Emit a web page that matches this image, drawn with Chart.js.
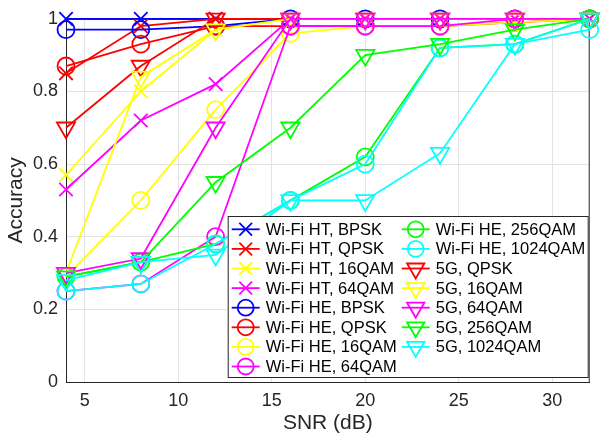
<!DOCTYPE html>
<html>
<head>
<meta charset="utf-8">
<script src="https://cdn.jsdelivr.net/npm/chart.js@4"></script>
<style>
  html, body { margin: 0; padding: 0; background: #fff; }
</style>
</head>
<body>
<canvas id="accChart" width="602" height="440"></canvas>
<script>
// SNR points (dB)
const snr = [4, 8, 12, 16, 20, 24, 28, 32];
const xTicks = [5, 10, 15, 20, 25, 30];
const yTicks = [0, 0.2, 0.4, 0.6, 0.8, 1];
const yTickLabels = ['0', '0.2', '0.4', '0.6', '0.8', '1'];

const seriesLabels = [
  'Wi-Fi HT, BPSK', 'Wi-Fi HT, QPSK', 'Wi-Fi HT, 16QAM', 'Wi-Fi HT, 64QAM',
  'Wi-Fi HE, BPSK', 'Wi-Fi HE, QPSK', 'Wi-Fi HE, 16QAM', 'Wi-Fi HE, 64QAM',
  'Wi-Fi HE, 256QAM', 'Wi-Fi HE, 1024QAM',
  '5G, QPSK', '5G, 16QAM', '5G, 64QAM', '5G, 256QAM', '5G, 1024QAM'
];

// accuracy per series
const htBpsk   = [1.00, 1.00, 1.00, 1.00, 1.00, 1.00, 1.00, 1.00];
const htQpsk   = [0.85, 0.98, 1.00, 1.00, 1.00, 1.00, 1.00, 1.00];
const ht16     = [0.57, 0.80, 0.97, 1.00, 1.00, 1.00, 1.00, 1.00];
const ht64     = [0.53, 0.72, 0.82, 1.00, 1.00, 1.00, 1.00, 1.00];
const heBpsk   = [0.97, 0.97, 0.98, 1.00, 1.00, 1.00, 1.00, 1.00];
const heQpsk   = [0.87, 0.93, 0.98, 0.98, 0.98, 0.98, 0.99, 1.00];
const he16     = [0.29, 0.50, 0.75, 0.96, 0.98, 0.98, 0.99, 1.00];
const he64     = [0.25, 0.27, 0.40, 0.98, 0.98, 0.98, 1.00, 1.00];
const he256    = [0.29, 0.33, 0.38, 0.50, 0.62, 0.92, 0.93, 1.00];
const he1024   = [0.25, 0.27, 0.38, 0.50, 0.60, 0.92, 0.93, 0.97];
const g5Qpsk   = [0.70, 0.87, 1.00, 1.00, 1.00, 1.00, 1.00, 1.00];
const g5_16    = [0.30, 0.84, 0.97, 1.00, 1.00, 1.00, 1.00, 1.00];
const g5_64    = [0.30, 0.34, 0.70, 1.00, 1.00, 1.00, 1.00, 1.00];
const g5_256   = [0.29, 0.33, 0.55, 0.70, 0.90, 0.93, 0.97, 1.00];
const g5_1024  = [0.28, 0.33, 0.35, 0.50, 0.50, 0.63, 0.93, 1.00];

const seriesValues = [htBpsk, htQpsk, ht16, ht64, heBpsk, heQpsk, he16, he64,
  he256, he1024, g5Qpsk, g5_16, g5_64, g5_256, g5_1024];

// styles
const BLUE = '#0000ff', RED = '#ff0000', YELLOW = '#ffff00',
      MAGENTA = '#ff00ff', GREEN = '#00ff00', CYAN = '#00ffff';
const seriesColors = [BLUE, RED, YELLOW, MAGENTA, BLUE, RED, YELLOW, MAGENTA,
  GREEN, CYAN, RED, YELLOW, MAGENTA, GREEN, CYAN];
const seriesMarkers = ['x', 'x', 'x', 'x', 'o', 'o', 'o', 'o', 'o', 'o', 'v', 'v', 'v', 'v', 'v'];

const markerStyle = {
  x: { pointStyle: 'crossRot', radius: 9.5, rotation: 0 },
  o: { pointStyle: 'circle', radius: 8.5, rotation: 0 },
  v: { pointStyle: 'triangle', radius: 10.5, rotation: 180 }
};

const FONT = "'Liberation Sans', Arial, Helvetica, sans-serif";
const AXIS_COLOR = '#262626';
const LW = 1.8;

const datasets = seriesLabels.map(function (label, i) {
  const m = markerStyle[seriesMarkers[i]];
  return {
    label: label,
    data: snr.map(function (x, k) { return { x: x, y: seriesValues[i][k] }; }),
    borderColor: seriesColors[i],
    backgroundColor: 'transparent',
    borderWidth: LW,
    pointStyle: m.pointStyle,
    pointRadius: m.radius,
    pointRotation: m.rotation,
    pointBorderWidth: LW,
    pointBorderColor: seriesColors[i],
    pointBackgroundColor: 'transparent',
    tension: 0,
    clip: false,
    // later series on top, like MATLAB
    order: seriesLabels.length - 1 - i
  };
});

// box around the axes
const axesBox = {
  id: 'axesBox',
  beforeDatasetsDraw(chart) {
    const a = chart.chartArea, ctx = chart.ctx;
    ctx.save();
    ctx.strokeStyle = AXIS_COLOR;
    ctx.lineWidth = 1;
    ctx.strokeRect(a.left + 0.5, a.top + 0.5, a.right - a.left - 1, a.bottom - a.top);
    ctx.restore();
  }
};

// two-column legend inside the axes (bottom right)
const boxLegend = {
  id: 'boxLegend',
  afterDraw(chart) {
    const a = chart.chartArea, ctx = chart.ctx;
    const right = a.right - 1, bottom = a.bottom - 4;
    const left = right - 361, top = bottom - 162;
    const rowH = 19.6;
    const perCol = 8;
    ctx.save();
    ctx.fillStyle = '#ffffff';
    ctx.fillRect(left, top, right - left, bottom - top);
    ctx.strokeStyle = AXIS_COLOR;
    ctx.lineWidth = 1;
    ctx.strokeRect(left + 0.5, top + 0.5, right - left - 1, bottom - top - 1);
    ctx.font = '16.5px ' + FONT;
    ctx.textBaseline = 'middle';
    ctx.textAlign = 'left';
    seriesLabels.forEach(function (label, i) {
      const col = Math.floor(i / perCol), row = i % perCol;
      const mx = left + 18 + col * 170;
      const my = top + 13.3 + row * rowH;
      const m = markerStyle[seriesMarkers[i]];
      ctx.strokeStyle = seriesColors[i];
      ctx.fillStyle = 'transparent';
      ctx.lineWidth = LW;
      ctx.beginPath();
      ctx.moveTo(mx - 14, my);
      ctx.lineTo(mx + 14, my);
      ctx.stroke();
      Chart.helpers.drawPoint(ctx, {
        pointStyle: m.pointStyle, radius: m.radius - 0.5, rotation: m.rotation, borderWidth: LW
      }, mx, my);
      ctx.fillStyle = '#000000';
      ctx.fillText(label, mx + 20, my + 1);
    });
    ctx.restore();
  }
};

const ctx = document.getElementById('accChart').getContext('2d');
new Chart(ctx, {
  type: 'line',
  data: { datasets: datasets },
  plugins: [axesBox, boxLegend],
  options: {
    responsive: false,
    animation: false,
    events: [],
    layout: { padding: { top: 16, right: 9, left: 0, bottom: 0 } },
    plugins: {
      legend: { display: false },
      tooltip: { enabled: false }
    },
    scales: {
      x: {
        type: 'linear',
        min: 4,
        max: 32,
        afterBuildTicks: function (s) { s.ticks = xTicks.map(function (v) { return { value: v }; }); },
        afterFit: function (s) { s.height = 58; },
        grid: { color: '#e3e3e3', drawTicks: false },
        border: { color: AXIS_COLOR },
        ticks: {
          padding: 8,
          color: AXIS_COLOR,
          font: { family: FONT, size: 18 },
          maxRotation: 0
        },
        title: {
          display: true,
          text: 'SNR (dB)',
          color: AXIS_COLOR,
          font: { family: FONT, size: 21 },
          padding: { top: 2, bottom: 4 }
        }
      },
      y: {
        min: 0,
        max: 1,
        afterBuildTicks: function (s) { s.ticks = yTicks.map(function (v) { return { value: v }; }); },
        afterFit: function (s) { s.width = 66; },
        grid: { color: '#e3e3e3', drawTicks: false },
        border: { color: AXIS_COLOR },
        ticks: {
          padding: 8,
          color: AXIS_COLOR,
          font: { family: FONT, size: 18 },
          callback: function (v, idx) { return yTickLabels[idx]; }
        },
        title: {
          display: true,
          text: 'Accuracy',
          color: AXIS_COLOR,
          font: { family: FONT, size: 21 },
          padding: { top: 4, bottom: 4 }
        }
      }
    }
  }
});
</script>
</body>
</html>
